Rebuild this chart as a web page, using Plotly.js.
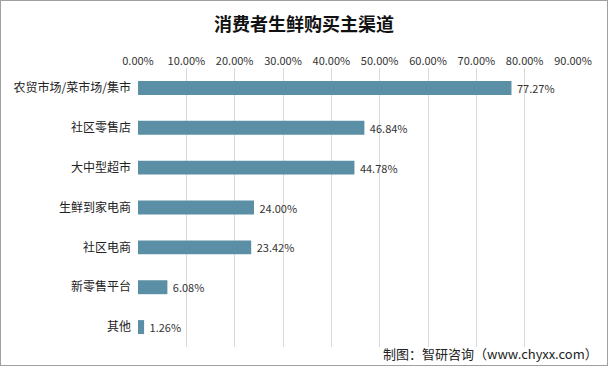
<!DOCTYPE html>
<html><head><meta charset="utf-8">
<script src="https://cdn.plot.ly/plotly-3.0.1.min.js"></script>
<style>html,body{margin:0;padding:0;background:#fff;}#c{width:606px;height:364px;border:1px solid #a0a0a0;}</style>
</head><body><div id="c"></div>
<script>
const categories = ["农贸市场/菜市场/集市","社区零售店","大中型超市","生鲜到家电商","社区电商","新零售平台","其他"];
const values = [77.27,46.84,44.78,24.00,23.42,6.08,1.26];
const tickValues = [0,10,20,30,40,50,60,70,80,90];
const tickLabels = tickValues.map(v => v.toFixed(2) + "%");
const titleText = "消费者生鲜购买主渠道";
const sourceText = "制图：智研咨询（www.chyxx.com）";

const font = "'Noto Sans CJK SC', 'Microsoft YaHei', sans-serif";
Plotly.newPlot("c", [{
  type: "bar", orientation: "h",
  y: categories, x: values,
  marker: {color: "#5b8fa6"},
  text: values.map(v => " " + v.toFixed(2) + "%"),
  textposition: "outside", cliponaxis: false, constraintext: "none",
  textfont: {size: 11, color: "#333", family: font},
  hoverinfo: "none"
}], {
  width: 606, height: 364,
  margin: {l: 137, r: 34, t: 67, b: 18},
  paper_bgcolor: "#fff", plot_bgcolor: "#fff",
  bargap: 0.65,
  title: {text: "<b>" + titleText + "</b>", x: 0.5, xanchor: "center", y: 0.935, yanchor: "middle",
          font: {family: font, size: 18, color: "#111"}},
  font: {family: font},
  xaxis: {side: "top", range: [0, 90], tickvals: tickValues, ticktext: tickLabels,
          showgrid: true, gridcolor: "#d9d9d9", gridwidth: 1, zeroline: false,
          showline: false, ticks: "", tickfont: {size: 11, color: "#333"}, fixedrange: true},
  yaxis: {autorange: "reversed", ticks: "", showline: false, showgrid: false,
          tickfont: {size: 12, color: "#222"}, ticklabelstandoff: 6, fixedrange: true},
  annotations: [{text: sourceText, xref: "paper", yref: "paper", x: 1.062, y: -0.022,
                 xanchor: "right", yanchor: "middle", showarrow: false,
                 font: {size: 13, color: "#222", family: font}}],
  showlegend: false
}, {displayModeBar: false, staticPlot: true});
</script></body></html>
